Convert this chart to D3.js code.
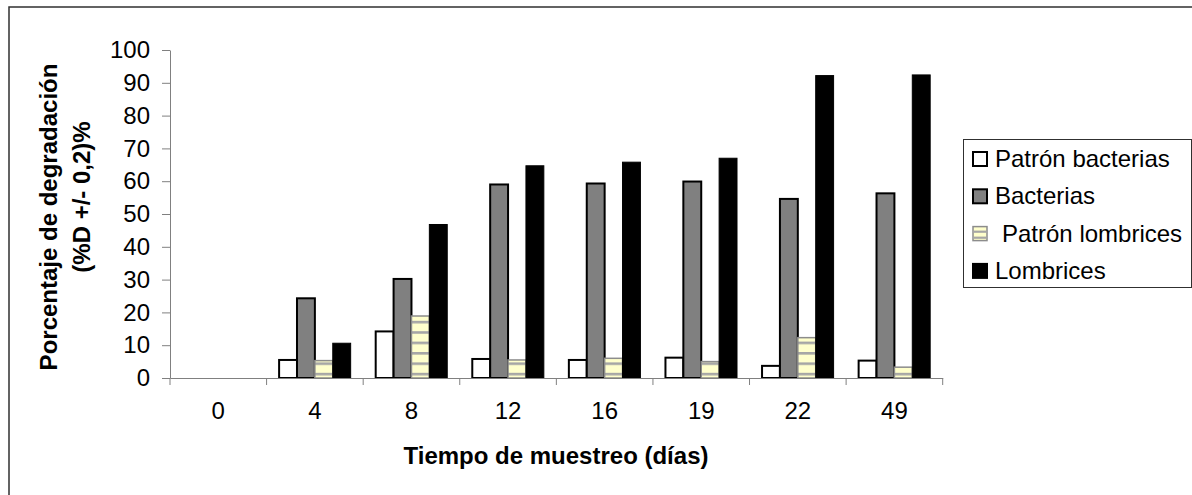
<!DOCTYPE html>
<html>
<head>
<meta charset="utf-8">
<script src="https://cdn.jsdelivr.net/npm/d3@7"></script>
<style>
  body { margin: 0; background: #fff; }
  svg { display: block; font-family: "Liberation Sans", Arial, sans-serif; }
</style>
</head>
<body>
<script>
// datos
var dias = ["0", "4", "8", "12", "16", "19", "22", "49"];
var patronBacterias = [0, 5.5, 14.2, 5.8, 5.5, 6.2, 3.7, 5.3];
var bacterias = [0, 24.3, 30.2, 59.0, 59.3, 59.9, 54.6, 56.3];
var patronLombrices = [0, 5.3, 18.9, 5.5, 6.0, 5.0, 12.3, 3.3];
var lombrices = [0, 10.6, 46.8, 64.7, 65.8, 67.0, 92.2, 92.4];
var series = ["Patrón bacterias", "Bacterias", "Patrón lombrices", "Lombrices"];
var yTicks = [0, 10, 20, 30, 40, 50, 60, 70, 80, 90, 100];

const w = 1192,
    h = 495;
const fs = 24;
const svg = d3.select("body")
    .append("svg")
    .attr("width", w)
    .attr("height", h);

// patron de rayas para "Patrón lombrices"
var defs = svg.append("defs");
var pat = defs.append("pattern")
    .attr("id", "rayas")
    .attr("patternUnits", "userSpaceOnUse")
    .attr("width", 8)
    .attr("height", 10.4)
    .attr("y", 378 - 5.2);
pat.append("rect").attr("width", 8).attr("height", 10.4).attr("fill", "#ffffcc");
pat.append("rect").attr("y", 0).attr("width", 8).attr("height", 2.6).attr("fill", "#a6a6a6");

// marco exterior
svg.append("rect")
    .attr("x", 9).attr("y", 7)
    .attr("width", 1200).attr("height", 500)
    .attr("fill", "none")
    .attr("stroke", "#303030")
    .attr("stroke-width", 1.5);

var xScale = d3.scaleBand()
    .domain(dias)
    .range([170, 942.7]);

var xSub = d3.scaleBand()
    .domain(series)
    .range([0, xScale.bandwidth()])
    .paddingOuter(0.7);

var yScale = d3.scaleLinear()
    .domain([0, 100])
    .range([378, 50]);

var estilos = {
    "Patrón bacterias": { fill: "#ffffff", stroke: "#000", sw: 2 },
    "Bacterias": { fill: "#808080", stroke: "#000", sw: 2 },
    "Patrón lombrices": { fill: "url(#rayas)", stroke: "#8c8c8c", sw: 1.5 },
    "Lombrices": { fill: "#000000", stroke: "#000", sw: 1 }
};

var valores = [patronBacterias, bacterias, patronLombrices, lombrices];
var filas = [];
dias.forEach(function (d, i) {
    series.forEach(function (s, j) {
        filas.push({ dia: d, serie: s, valor: valores[j][i] });
    });
});

svg.append("g")
    .selectAll("rect")
    .data(filas.filter((d) => d.valor > 0))
    .enter()
    .append("rect")
    .attr("x", (d) => xScale(d.dia) + xSub(d.serie))
    .attr("y", (d) => yScale(d.valor))
    .attr("width", xSub.bandwidth())
    .attr("height", (d) => yScale(0) - yScale(d.valor))
    .attr("fill", (d) => estilos[d.serie].fill)
    .attr("stroke", (d) => estilos[d.serie].stroke)
    .attr("stroke-width", (d) => estilos[d.serie].sw);

// eje y
var yAxis = d3.axisLeft(yScale)
    .tickValues(yTicks)
    .tickSize(8)
    .tickPadding(12)
    .tickSizeOuter(0);
var gy = svg.append("g")
    .attr("transform", "translate(170,0)")
    .call(yAxis);
gy.select(".domain").attr("stroke", "#808080");
gy.selectAll(".tick line").attr("stroke", "#808080");
gy.selectAll("text").attr("font-size", fs).attr("fill", "#000").attr("font-family", null);

// eje x
var xAxis = d3.axisBottom(xScale).tickSize(0).tickPadding(24);
var gx = svg.append("g")
    .attr("transform", "translate(0,378)")
    .call(xAxis);
gx.select(".domain").attr("stroke", "#808080");
gx.selectAll("text").attr("font-size", fs).attr("fill", "#000").attr("font-family", null);
gx.selectAll(".limite")
    .data(dias.concat(["fin"]))
    .enter()
    .append("line")
    .attr("x1", (d, i) => i < dias.length ? xScale(d) : xScale.range()[1])
    .attr("x2", (d, i) => i < dias.length ? xScale(d) : xScale.range()[1])
    .attr("y1", 0).attr("y2", 7)
    .attr("stroke", "#808080");

// titulos
svg.append("text")
    .attr("x", 556)
    .attr("y", 464)
    .attr("text-anchor", "middle")
    .attr("font-size", fs)
    .attr("font-weight", "bold")
    .text("Tiempo de muestreo (días)");

svg.append("text")
    .attr("transform", "translate(57,217) rotate(-90)")
    .attr("text-anchor", "middle")
    .attr("font-size", fs)
    .attr("font-weight", "bold")
    .text("Porcentaje de degradación");

svg.append("text")
    .attr("transform", "translate(90,197) rotate(-90)")
    .attr("text-anchor", "middle")
    .attr("font-size", fs)
    .attr("font-weight", "bold")
    .text("(%D +/- 0,2)%");

// leyenda
var ley = svg.append("g");
ley.append("rect")
    .attr("x", 963.5).attr("y", 139.5)
    .attr("width", 228).attr("height", 148)
    .attr("fill", "#fff")
    .attr("stroke", "#303030")
    .attr("stroke-width", 1);

var filasLey = ley.selectAll(".item")
    .data(series)
    .enter()
    .append("g")
    .attr("transform", (d, i) => "translate(0," + (167 + i * 37.3) + ")");

filasLey.append("rect")
    .attr("x", 973)
    .attr("y", -15)
    .attr("width", 14)
    .attr("height", 14)
    .attr("fill", (d) => d === "Patrón lombrices" ? "#ffffcc" : estilos[d].fill)
    .attr("stroke", (d) => estilos[d].stroke)
    .attr("stroke-width", (d) => d === "Patrón lombrices" ? 1.5 : 2);

// rayas del simbolo de la leyenda
ley.selectAll(".raya")
    .data([0, 1])
    .enter()
    .append("rect")
    .attr("x", 973)
    .attr("y", (d) => 167 + 2 * 37.3 - 11 + d * 6)
    .attr("width", 14)
    .attr("height", 2.2)
    .attr("fill", "#a6a6a6");

filasLey.append("text")
    .attr("x", (d) => d === "Patrón lombrices" ? 1002 : 995)
    .attr("y", 0)
    .attr("font-size", fs)
    .text((d) => d);
</script>
</body>
</html>
